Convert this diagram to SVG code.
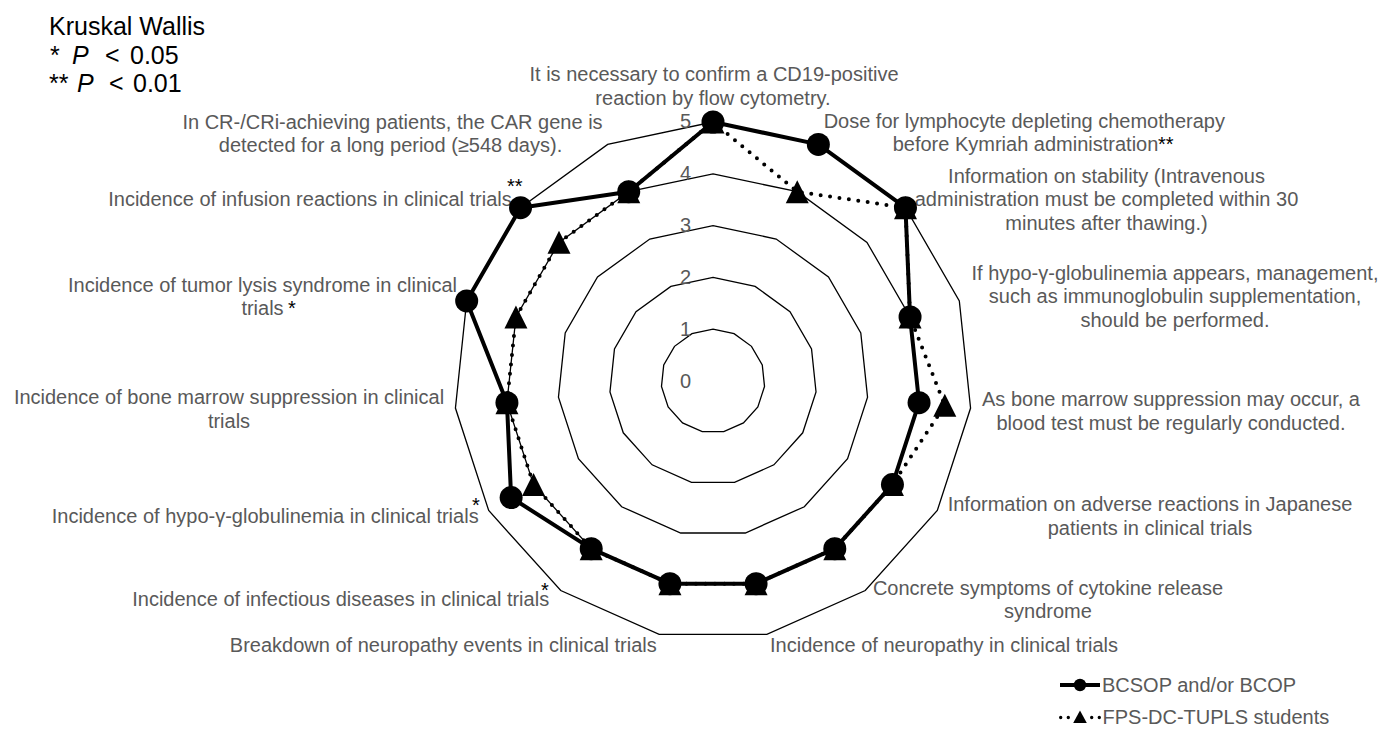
<svg xmlns="http://www.w3.org/2000/svg" xmlns:xlink="http://www.w3.org/1999/xlink" width="1380" height="731" viewBox="0 0 1380 731">
<style>
.ring{fill:none;stroke:#000;stroke-width:1.3;stroke-linejoin:miter}
.lbl{font-family:"Liberation Sans",Arial,sans-serif;font-size:20px;fill:#595959;text-anchor:middle}
.ast{font-family:"Liberation Sans",Arial,sans-serif;font-size:20px;fill:#000}
.tick{font-family:"Liberation Sans",Arial,sans-serif;font-size:20px;fill:#595959;text-anchor:end}
.note{font-family:"Liberation Sans",Arial,sans-serif;font-size:25px;fill:#000}
.leg{font-family:"Liberation Sans",Arial,sans-serif;font-size:20px;fill:#595959}
.s1{fill:none;stroke:#000;stroke-width:4;stroke-linejoin:round}
.s2{fill:none;stroke:#000;stroke-width:4;stroke-linecap:round;stroke-dasharray:0 9.5}
.s2l{fill:none;stroke:#000;stroke-width:3.4;stroke-linecap:round;stroke-dasharray:0 7.6}
</style>
<defs>
<circle id="mc" r="11.5" fill="#000"/>
<path id="mt" d="M0,-11.5 L11.5,11.5 L-11.5,11.5Z" fill="#000"/>
</defs>
<rect width="1380" height="731" fill="#fff"/>

<g id="grid">
<polygon class="ring" points="713,329.2 734.07,333.68 751.49,346.34 762.27,364.99 764.52,386.41 757.86,406.9 743.45,422.91 723.77,431.67 702.23,431.67 682.55,422.91 668.14,406.9 661.48,386.41 663.73,364.99 674.51,346.34 691.93,333.68"/>
<polygon class="ring" points="713,277.4 755.14,286.36 789.99,311.68 811.53,348.99 816.03,391.83 802.72,432.8 773.89,464.81 734.54,482.34 691.46,482.34 652.11,464.81 623.28,432.8 609.97,391.83 614.47,348.99 636.01,311.68 670.86,286.36"/>
<polygon class="ring" points="713,225.6 776.21,239.03 828.48,277.02 860.79,332.98 867.55,397.24 847.58,458.7 804.34,506.72 745.31,533 680.69,533 621.66,506.72 578.42,458.7 558.45,397.24 565.21,332.98 597.52,277.02 649.79,239.03"/>
<polygon class="ring" points="713,173.8 797.28,191.71 866.98,242.36 910.06,316.97 919.06,402.66 892.44,484.6 834.79,548.63 756.08,583.67 669.92,583.67 591.21,548.63 533.56,484.6 506.94,402.66 515.94,316.97 559.02,242.36 628.72,191.71"/>
<polygon class="ring" points="713,122 818.35,144.39 905.47,207.7 959.32,300.96 970.58,408.07 937.3,510.5 865.24,590.54 766.85,634.34 659.15,634.34 560.76,590.54 488.7,510.5 455.42,408.07 466.68,300.96 520.53,207.7 607.65,144.39"/>
<text class="tick" x="691" y="388">0</text>
<text class="tick" x="691" y="336">1</text>
<text class="tick" x="691" y="284">2</text>
<text class="tick" x="691" y="232">3</text>
<text class="tick" x="691" y="180">4</text>
<text class="tick" x="691" y="128">5</text>
</g>

<g id="stats-note">
<text class="note" x="49" y="35">Kruskal Wallis</text>
<text class="note" y="64"><tspan x="50">*</tspan><tspan x="72" font-style="italic">P</tspan><tspan x="105">&lt;</tspan><tspan x="130">0.05</tspan></text>
<text class="note" y="92"><tspan x="49">**</tspan><tspan x="77" font-style="italic">P</tspan><tspan x="109">&lt;</tspan><tspan x="133">0.01</tspan></text>
</g>

<g id="label-1">
<text class="lbl" x="714" y="81">It is necessary to confirm a CD19-positive</text>
<text class="lbl" x="713" y="104.5">reaction by flow cytometry.</text>
</g>
<g id="label-2">
<text class="lbl" x="1024.3" y="127.5">Dose for lymphocyte depleting chemotherapy</text>
<text class="lbl" x="1025.5" y="150.5">before Kymriah administration</text>
<text class="ast" x="1158" y="151">**</text>
</g>
<g id="label-3">
<text class="lbl" x="1106.5" y="182.5">Information on stability (Intravenous</text>
<text class="lbl" x="1106.5" y="206">administration must be completed within 30</text>
<text class="lbl" x="1106.5" y="229.5">minutes after thawing.)</text>
</g>
<g id="label-4">
<text class="lbl" x="1175" y="279.5">If hypo-γ-globulinemia appears, management,</text>
<text class="lbl" x="1175" y="303">such as immunoglobulin supplementation,</text>
<text class="lbl" x="1175" y="326.5">should be performed.</text>
</g>
<g id="label-5">
<text class="lbl" x="1171" y="406">As bone marrow suppression may occur, a</text>
<text class="lbl" x="1171" y="429.5">blood test must be regularly conducted.</text>
</g>
<g id="label-6">
<text class="lbl" x="1150" y="511">Information on adverse reactions in Japanese</text>
<text class="lbl" x="1150" y="534.5">patients in clinical trials</text>
</g>
<g id="label-7">
<text class="lbl" x="1048" y="594.5">Concrete symptoms of cytokine release</text>
<text class="lbl" x="1048" y="618">syndrome</text>
</g>
<g id="label-8">
<text class="lbl" x="944" y="651.5">Incidence of neuropathy in clinical trials</text>
</g>
<g id="label-9">
<text class="lbl" x="443.3" y="651.5">Breakdown of neuropathy events in clinical trials</text>
</g>
<g id="label-10">
<text class="lbl" x="340.7" y="606">Incidence of infectious diseases in clinical trials</text>
<text class="ast" x="541" y="597">*</text>
</g>
<g id="label-11">
<text class="lbl" x="265.2" y="523">Incidence of hypo-γ-globulinemia in clinical trials</text>
<text class="ast" x="472" y="512">*</text>
</g>
<g id="label-12">
<text class="lbl" x="229" y="404">Incidence of bone marrow suppression in clinical</text>
<text class="lbl" x="229" y="427.5">trials</text>
</g>
<g id="label-13">
<text class="lbl" x="262.5" y="292">Incidence of tumor lysis syndrome in clinical</text>
<text class="lbl" x="262.5" y="315">trials</text>
<text class="ast" x="288" y="315">*</text>
</g>
<g id="label-14">
<text class="lbl" x="310" y="206">Incidence of infusion reactions in clinical trials</text>
<text class="ast" x="507" y="193">**</text>
</g>
<g id="label-15">
<text class="lbl" x="392.5" y="128.5">In CR-/CRi-achieving patients, the CAR gene is</text>
<text class="lbl" x="390.5" y="151.5">detected for a long period (≥548 days).</text>
</g>

<g id="connectors">
<polygon id="line-fps" class="s2" points="713,122 797.28,191.71 905.47,207.7 910.06,316.97 944.82,405.37 892.44,484.6 834.79,548.63 756.08,583.67 669.92,583.67 591.21,548.63 533.56,484.6 506.94,402.66 515.94,316.97 559.02,242.36 628.72,191.71"/>
<polygon id="line-bcsop" class="s1" points="713,122 818.35,144.39 905.47,207.7 910.06,316.97 919.06,402.66 892.44,484.6 834.79,548.63 756.08,583.67 669.92,583.67 591.21,548.63 511.13,497.55 506.94,402.66 466.68,300.96 520.53,207.7 628.72,191.71"/>
</g>

<g id="markers-fps">
<use xlink:href="#mt" x="713" y="122"/>
<use xlink:href="#mt" x="797.28" y="191.71"/>
<use xlink:href="#mt" x="905.47" y="207.7"/>
<use xlink:href="#mt" x="910.06" y="316.97"/>
<use xlink:href="#mt" x="944.82" y="405.37"/>
<use xlink:href="#mt" x="892.44" y="484.6"/>
<use xlink:href="#mt" x="834.79" y="548.63"/>
<use xlink:href="#mt" x="756.08" y="583.67"/>
<use xlink:href="#mt" x="669.92" y="583.67"/>
<use xlink:href="#mt" x="591.21" y="548.63"/>
<use xlink:href="#mt" x="533.56" y="484.6"/>
<use xlink:href="#mt" x="506.94" y="402.66"/>
<use xlink:href="#mt" x="515.94" y="316.97"/>
<use xlink:href="#mt" x="559.02" y="242.36"/>
<use xlink:href="#mt" x="628.72" y="191.71"/>
</g>
<g id="markers-bcsop">
<use xlink:href="#mc" x="713" y="122"/>
<use xlink:href="#mc" x="818.35" y="144.39"/>
<use xlink:href="#mc" x="905.47" y="207.7"/>
<use xlink:href="#mc" x="910.06" y="316.97"/>
<use xlink:href="#mc" x="919.06" y="402.66"/>
<use xlink:href="#mc" x="892.44" y="484.6"/>
<use xlink:href="#mc" x="834.79" y="548.63"/>
<use xlink:href="#mc" x="756.08" y="583.67"/>
<use xlink:href="#mc" x="669.92" y="583.67"/>
<use xlink:href="#mc" x="591.21" y="548.63"/>
<use xlink:href="#mc" x="511.13" y="497.55"/>
<use xlink:href="#mc" x="506.94" y="402.66"/>
<use xlink:href="#mc" x="466.68" y="300.96"/>
<use xlink:href="#mc" x="520.53" y="207.7"/>
<use xlink:href="#mc" x="628.72" y="191.71"/>
</g>

<g id="legend">
<g id="legend-bcsop">
<line x1="1060" y1="685" x2="1100" y2="685" stroke="#000" stroke-width="4"/>
<circle cx="1080" cy="685" r="6.2" fill="#000"/>
<text class="leg" x="1102" y="692">BCSOP and/or BCOP</text>
</g>
<g id="legend-fps">
<line class="s2l" x1="1060.7" y1="717.5" x2="1068.3" y2="717.5"/>
<line class="s2l" x1="1091.7" y1="717.5" x2="1099.3" y2="717.5"/>
<path d="M1080,710.5 L1086.8,723 L1073.2,723Z" fill="#000"/>
<text class="leg" x="1102.5" y="723.5">FPS-DC-TUPLS students</text>
</g>
</g>
</svg>
